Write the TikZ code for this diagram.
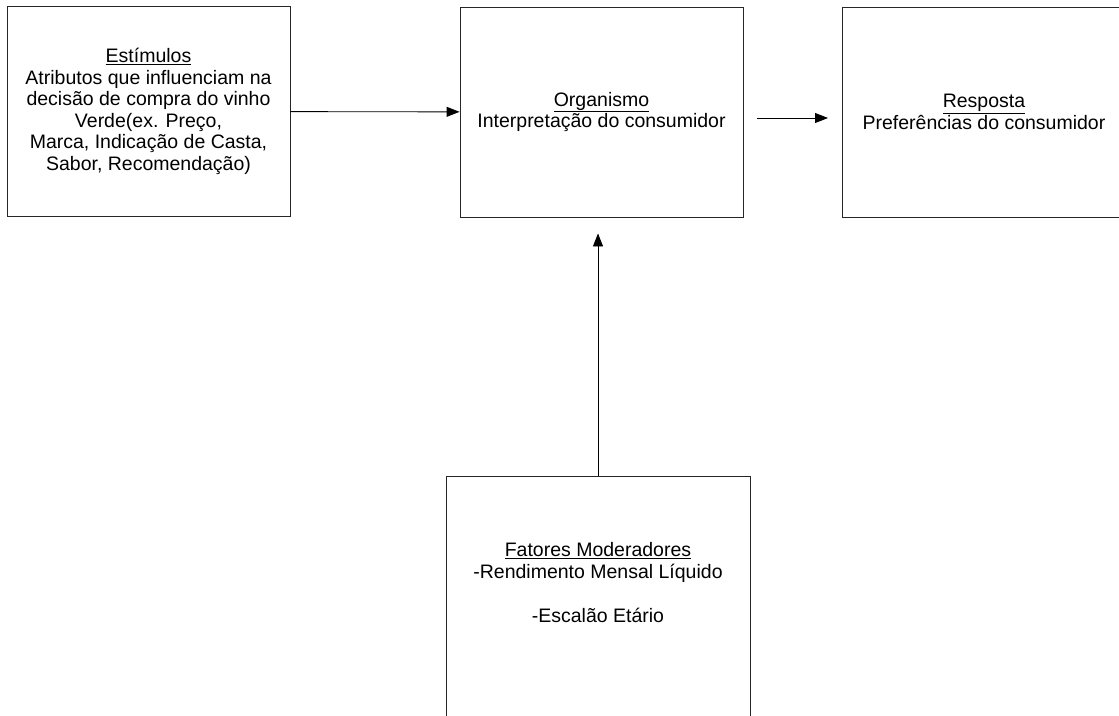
\documentclass[tikz,border=0pt]{standalone}
\usepackage{fontspec}
\setmainfont{Liberation Sans}
\usetikzlibrary{positioning, arrows.meta}
\tikzset{
    box/.style={draw=black!85, line width=0.9pt, align=center, inner sep=0pt,
        minimum width=283pt, minimum height=210pt, font=\fontsize{19.5}{21.5}\selectfont},
    txt/.style={align=center, inner sep=0pt, font=\fontsize{19.5}{22}\selectfont},
    arrow/.style={-{Triangle[length=13pt, width=10pt]}, line width=0.9pt}
}

\begin{document}
\begin{tikzpicture}[x=1pt, y=-1pt]
    \path[use as bounding box, clip] (0,0) rectangle (1119,715);

    % Input, organism and response
    \node [box] (stim) at (148.5,111.5) {\underline{Estímulos}\\ Atributos que influenciam na\\ decisão de compra do vinho\\ Verde(ex. Preço,\\ Marca, Indicação de Casta,\\ Sabor, Recomendação)};
    \node [box] (org) at (601.5,112) {\underline{Organismo}\\ Interpretação do consumidor};
    \node [box, anchor=west] (resp) at (842,112) {\underline{Resposta}\\ Preferências do consumidor};

    % Moderating factors (box runs past the lower edge)
    \node [box, anchor=north, minimum width=304pt, minimum height=260pt] (fat) at (598,476) {};
    \node [txt] (fattxt) at (598,583) {\underline{Fatores Moderadores}\\ -Rendimento Mensal Líquido\\[22pt] -Escalão Etário};

    % Connections
    \draw [arrow] (stim) -- (org);
    \draw [arrow, shorten <=14pt, shorten >=14pt] ([yshift=-6pt]org.east) -- ([yshift=-6pt]resp.west);
    \draw [arrow, shorten >=16pt] (fat.north) -- (fat.north |- org.south);
\end{tikzpicture}
\end{document}
